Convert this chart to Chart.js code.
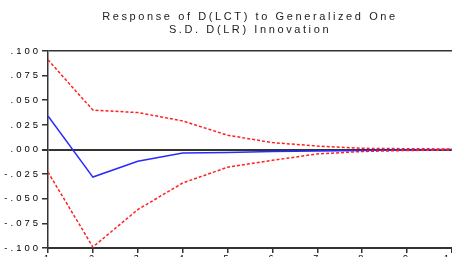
<!DOCTYPE html>
<html>
<head>
<meta charset="utf-8">
<script src="https://cdn.jsdelivr.net/npm/chart.js@4"></script>
<style>
html,body{margin:0;padding:0;background:#fff;}
#wrap{width:452px;height:257px;}
</style>
</head>
<body>
<div id="wrap"><canvas id="c" width="452" height="257"></canvas></div>
<script>
const periods = [1, 2, 3, 4, 5, 6, 7, 8, 9, 10];
const response = [0.034, -0.028, -0.012, -0.0035, -0.003, -0.002, -0.0015, -0.001, -0.0005, 0];
const upperBand = [0.091, 0.040, 0.0375, 0.029, 0.0145, 0.007, 0.0035, 0.0012, 0.0008, 0.0005];
const lowerBand = [-0.023, -0.099, -0.061, -0.034, -0.018, -0.011, -0.0045, -0.002, -0.001, -0.0005];
const yTicks = [-0.1, -0.075, -0.05, -0.025, 0, 0.025, 0.05, 0.075, 0.1];
const titleLines = ['Response of D(LCT) to Generalized One', 'S.D. D(LR) Innovation'];

function pts(arr){ return periods.map((p,i)=>({x:p,y:arr[i]})); }
function fmt(v){
  let s = Math.abs(v).toFixed(3).replace(/^0/, '');
  return (v < -1e-9 ? '-' : '') + s;
}

const canvas = document.getElementById('c');
const cx = canvas.getContext('2d');
const origFill = cx.fillText;
cx.fillText = function(t, x, y, m){
  this.letterSpacing = this.font.indexOf('11px') >= 0 ? '2.6px' : '3px';
  if (m === undefined) origFill.call(this, t, x, y); else origFill.call(this, t, x, y, m);
  this.letterSpacing = '0px';
};

new Chart(canvas, {
  type:'line',
  data:{
    datasets:[
      {data:pts(upperBand), borderColor:'#ff2020', borderWidth:1.5, borderDash:[3,2], pointRadius:0, fill:false, tension:0},
      {data:pts(lowerBand), borderColor:'#ff2020', borderWidth:1.5, borderDash:[3,2], pointRadius:0, fill:false, tension:0},
      {data:pts(response), borderColor:'#2a2aff', borderWidth:1.5, pointRadius:0, fill:false, tension:0}
    ]
  },
  options:{
    responsive:false,
    animation:false,
    events:[],
    layout:{padding:{top:0,right:0,bottom:0,left:0}},
    plugins:{
      legend:{display:false},
      tooltip:{enabled:false},
      title:{
        display:true,
        fullSize:false,
        text:titleLines,
        color:'#222',
        font:{family:'Liberation Sans', size:11, weight:'normal', lineHeight:1.2},
        padding:{top:10,bottom:14.6}
      }
    },
    scales:{
      x:{
        type:'linear', min:1, max:10,
        afterFit(s){ s.height = 9; s.paddingLeft = 0; s.paddingRight = 0; },
        afterBuildTicks(s){ s.ticks = periods.map(v=>({value:v})); },
        border:{display:true, color:'#333', width:2},
        grid:{display:true, drawOnChartArea:false, drawTicks:true, tickLength:5, tickColor:'#333', lineWidth:1.5},
        ticks:{padding:0, maxRotation:0, autoSkip:false, color:'#000', font:{family:'Liberation Sans', size:9}}
      },
      y:{
        min:-0.1, max:0.1,
        afterFit(s){ s.width = 48; },
        afterBuildTicks(s){ s.ticks = yTicks.map(v=>({value:v})); },
        border:{display:true, color:'#333', width:1.5},
        grid:{
          display:true, drawTicks:true, tickLength:6, tickColor:'#333',
          color:(ctx)=>{ const v = ctx.tick ? ctx.tick.value : null; return (Math.abs(v) < 1e-9 || Math.abs(v-0.1) < 1e-9) ? '#333' : 'rgba(0,0,0,0)'; },
          lineWidth:(ctx)=>{ const v = ctx.tick ? ctx.tick.value : null; return Math.abs(v) < 1e-9 ? 2 : 1.5; }
        },
        ticks:{padding:1, color:'#000', font:{family:'Liberation Sans', size:9.5}, callback:(v)=>fmt(v)}
      }
    }
  }
});
</script>
</body>
</html>
